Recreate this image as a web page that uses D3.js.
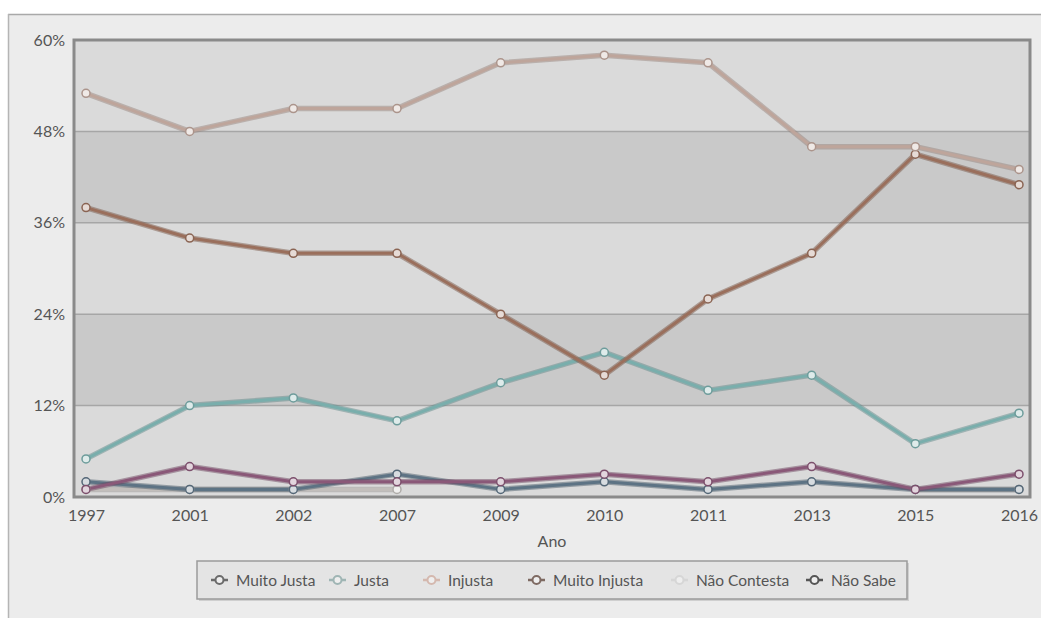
<!DOCTYPE html>
<html>
<head>
<meta charset="utf-8">
<script src="https://cdn.jsdelivr.net/npm/d3@7"></script>
<style>
  body { margin: 0; background: #fff; }
  text { font-family: Lato, "Open Sans", sans-serif; }
</style>
</head>
<body>
<div id="chart"></div>
<script>
// categorias e séries
var anos = ["1997", "2001", "2002", "2007", "2009", "2010", "2011", "2013", "2015", "2016"];
var yTicks = [0, 12, 24, 36, 48, 60];
var nomes = ["Muito Justa", "Justa", "Injusta", "Muito Injusta", "Não Contesta", "Não Sabe"];
var muitoJusta   = [2, 1, 1, 3, 1, 2, 1, 2, 1, 1];
var justa        = [5, 12, 13, 10, 15, 19, 14, 16, 7, 11];
var injusta      = [53, 48, 51, 51, 57, 58, 57, 46, 46, 43];
var muitoInjusta = [38, 34, 32, 32, 24, 16, 26, 32, 45, 41];
var naoContesta  = [1, 1, 1, 1, null, null, null, null, 1, 1];
var naoSabe      = [1, 4, 2, 2, 2, 3, 2, 4, 1, 3];

var cores = ["#5d7384", "#79aeac", "#bea59b", "#9a6f5c", "#c2bebb", "#8a5878"];
var series = [muitoJusta, justa, injusta, muitoInjusta, naoContesta, naoSabe];

var W = 1041, H = 618;
var margin = { top: 40, left: 74 },
  width = 956, height = 457;

var root = d3.select("#chart").append("svg")
  .attr("width", W).attr("height", H);

// painel de fundo
root.append("rect").attr("x", 8).attr("y", 14).attr("width", W - 8).attr("height", H - 14)
  .attr("fill", "#ececec");
root.append("line").attr("x1", 8).attr("x2", W).attr("y1", 14.5).attr("y2", 14.5)
  .attr("stroke", "#a9a9a9").attr("stroke-width", 1.5);
root.append("line").attr("x1", 8.5).attr("x2", 8.5).attr("y1", 14).attr("y2", H)
  .attr("stroke", "#b5b5b5").attr("stroke-width", 1.5);

var svg = root.append("g")
  .attr("transform", "translate(" + margin.left + "," + margin.top + ")");

var x = d3.scalePoint().domain(anos).range([12, width - 11]);
var y = d3.scaleLinear().domain([0, 60]).range([height, 0]);

// faixas alternadas
d3.pairs(yTicks).forEach(function (p, i) {
  svg.append("rect")
    .attr("x", 0).attr("width", width)
    .attr("y", y(p[1])).attr("height", y(p[0]) - y(p[1]))
    .attr("fill", i % 2 == 1 ? "#c9c9c9" : "#dadada");
});
svg.selectAll(".grid").data(yTicks.slice(1, -1)).enter().append("line")
  .attr("x1", 0).attr("x2", width)
  .attr("y1", function (d) { return y(d); }).attr("y2", function (d) { return y(d); })
  .attr("stroke", "#a6a6a6").attr("stroke-width", 1.5);

// eixos
var yAxis = svg.append("g").call(d3.axisLeft(y).tickValues(yTicks)
  .tickFormat(function (d) { return d + "%"; }).tickSize(0).tickPadding(9));
var xAxis = svg.append("g").attr("transform", "translate(0," + height + ")")
  .call(d3.axisBottom(x).tickSize(0).tickPadding(13));
[yAxis, xAxis].forEach(function (a) {
  a.select(".domain").remove();
  a.selectAll("text").attr("fill", "#555").style("font-size", "16px");
});

svg.append("text")
  .attr("x", width / 2).attr("y", height + 50)
  .attr("text-anchor", "middle")
  .attr("fill", "#555").style("font-size", "16px")
  .text("Ano");

// linhas
var line = d3.line()
  .defined(function (d) { return d != null; })
  .x(function (d, i) { return x(anos[i]); })
  .y(function (d) { return y(d); });

var ordem = [4, 0, 5, 1, 3, 2];
ordem.forEach(function (s) {
  svg.append("path").datum(series[s])
    .attr("fill", "none").attr("stroke", d3.color(cores[s]).darker(0.6))
    .attr("stroke-opacity", 0.5).attr("stroke-width", 5.5)
    .attr("stroke-linejoin", "round").attr("d", line);
  svg.append("path").datum(series[s])
    .attr("fill", "none").attr("stroke", cores[s])
    .attr("stroke-width", 3).attr("stroke-linejoin", "round").attr("d", line);
});
ordem.forEach(function (s) {
  svg.selectAll(null).data(series[s].map(function (v, i) { return { v: v, i: i }; })
    .filter(function (d) { return d.v != null; }))
    .enter().append("circle")
    .attr("cx", function (d) { return x(anos[d.i]); })
    .attr("cy", function (d) { return y(d.v); })
    .attr("r", 4)
    .attr("fill", d3.interpolateRgb(cores[s], "#fff")(0.75))
    .attr("stroke", d3.color(cores[s]).darker(0.3))
    .attr("stroke-width", 1.5);
});

// moldura da área do gráfico
svg.append("rect").attr("x", 0).attr("y", 0).attr("width", width).attr("height", height)
  .attr("fill", "none").attr("stroke", "#8a8a8a").attr("stroke-width", 3);

// legenda
var lg = root.append("g");
lg.append("rect").attr("x", 199).attr("y", 563).attr("width", 710).attr("height", 38)
  .attr("fill", "#bdbdbd").attr("opacity", 0.6);
lg.append("rect").attr("x", 197).attr("y", 561).attr("width", 710).attr("height", 38)
  .attr("fill", "#e4e4e4").attr("stroke", "#9a9a9a").attr("stroke-width", 1.5);

var legendCores = ["#6b6b6b", "#9fb5b4", "#d4b8ae", "#7e6a62", "#d6d6d6", "#555"];
var legendX = [236, 354, 448, 553, 696, 831];
nomes.forEach(function (n, i) {
  var g = lg.append("g").attr("transform", "translate(" + (legendX[i] - 25) + ",580)");
  g.append("line").attr("x1", 0).attr("x2", 17).attr("y1", 0).attr("y2", 0)
    .attr("stroke", legendCores[i]).attr("stroke-width", 2.5);
  g.append("circle").attr("cx", 8.5).attr("cy", 0).attr("r", 4)
    .attr("fill", "#eee").attr("stroke", legendCores[i]).attr("stroke-width", 2);
  g.append("text").attr("x", 25).attr("y", 5.5)
    .attr("fill", "#555").style("font-size", "15.5px").text(n);
});
</script>
</body>
</html>
